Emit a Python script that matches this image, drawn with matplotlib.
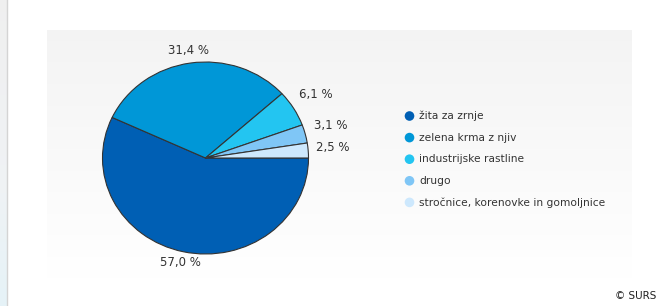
import numpy as np
import matplotlib
matplotlib.use("Agg")
import matplotlib.pyplot as plt

categories = ["žita za zrnje", "zelena krma z njiv", "industrijske rastline",
              "drugo", "stročnice, korenovke in gomoljnice"]
values = [57.0, 31.4, 6.1, 3.1, 2.5]
labels = ["57,0 %", "31,4 %", "6,1 %", "3,1 %", "2,5 %"]
colors = ["#005fb4", "#0097d7", "#23c5f1", "#7fc6f6", "#cde8fd"]

W, H = 660, 306
fig = plt.figure(figsize=(W / 100, H / 100), dpi=100)
fig.patch.set_facecolor("white")

def px_axes(x0, y0, x1, y1, **kw):
    return fig.add_axes([x0 / W, 1 - y1 / H, (x1 - x0) / W, (y1 - y0) / H], **kw)

# left strip of the page
strip = px_axes(0, 0, 7, 306)
strip.axis("off")
sgrad = np.linspace(0, 1, 100).reshape(-1, 1)
strip.imshow(np.dstack([np.interp(sgrad, [0, 0.6, 1], [0.94, 0.94, 0.90]),
                        np.interp(sgrad, [0, 0.6, 1], [0.94, 0.95, 0.95]),
                        np.interp(sgrad, [0, 0.6, 1], [0.94, 0.96, 0.97])]),
             aspect="auto", extent=[0, 1, 0, 1], origin="upper")
strip.plot([1, 1], [0, 1], color="#d4d4d4", lw=1, transform=strip.transAxes, clip_on=False)
strip.set_xlim(0, 1); strip.set_ylim(0, 1)

# gradient panel
bg = px_axes(47, 30, 632, 279)
bg.axis("off")
g = np.linspace(0.955, 1.0, 200).reshape(-1, 1)
bg.imshow(np.dstack([g, g, g]), aspect="auto", extent=[0, 1, 0, 1],
          origin="upper", vmin=0, vmax=1)

# pie
cx, cy, rx, ry = 205.5, 158, 103, 96
ax = px_axes(cx - rx, cy - ry, cx + rx, cy + ry)
wedges, _ = ax.pie(values, colors=colors, startangle=0, counterclock=False,
                   wedgeprops=dict(edgecolor="#333333", linewidth=0.8))
ax.set_aspect("auto")
ax.set_xlim(-1, 1)
ax.set_ylim(-1, 1)
ax.axis("off")

dists = [1.12, 1.13, 1.12, 1.1, 1.08]
offs = [(0, 0), (0, 0), (-4, 6), (-1, 4), (0, 2)]
for w, lab, d, off in zip(wedges, labels, dists, offs):
    ang = np.deg2rad((w.theta1 + w.theta2) / 2)
    x, y = d * np.cos(ang), d * np.sin(ang)
    ha = "center" if abs(x) < 0.4 else ("left" if x > 0 else "right")
    ax.annotate(lab, (x, y), xytext=off, textcoords="offset points",
                ha=ha, va="center", fontsize=8.5, color="#333333",
                annotation_clip=False)

# legend
leg = fig.add_axes([0, 0, 1, 1])
leg.axis("off")
leg.set_xlim(0, W)
leg.set_ylim(H, 0)
for i, (c, name) in enumerate(zip(colors, categories)):
    y = 116 + i * 21.6
    leg.scatter([409.5], [y], s=48, color=c, edgecolor="none")
    leg.text(419, y, name, ha="left", va="center", fontsize=7.7, color="#333333")

leg.text(656, 296, "© SURS", ha="right", va="center", fontsize=7.5, color="#222222")

fig.savefig("out.png", dpi=100)
